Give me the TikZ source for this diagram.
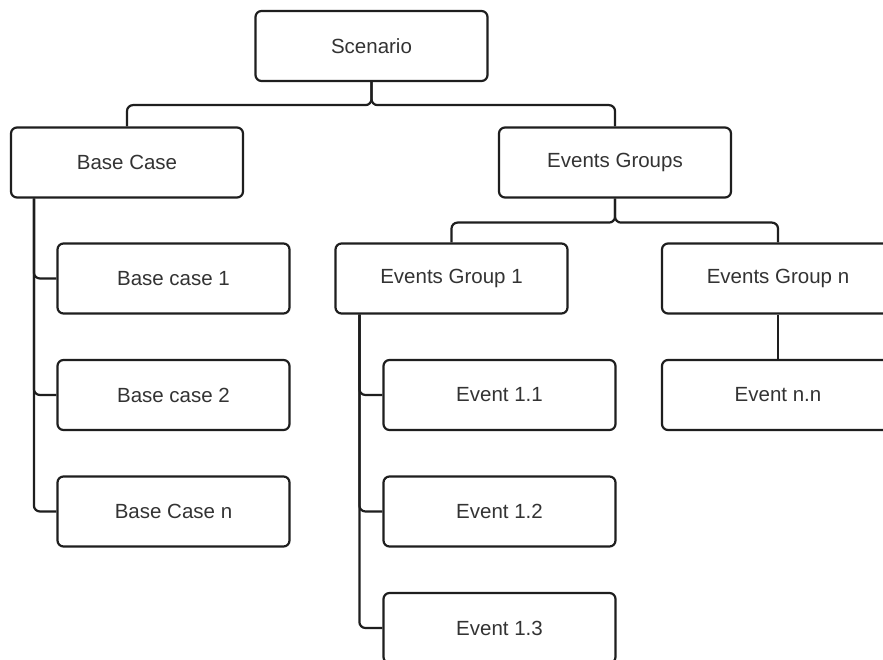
\documentclass[tikz,border=0pt]{standalone}
\usepackage{fontspec}
\setmainfont{Liberation Sans}
\usetikzlibrary{calc}
\definecolor{linecol}{HTML}{1E1E1E}
\definecolor{textcol}{HTML}{333333}
\begin{document}
\begin{tikzpicture}[x=1pt,y=-1pt,
  box/.style={draw=linecol, line width=2.2pt, rounded corners=6pt, fill=white,
    minimum width=232pt, minimum height=70pt, inner sep=0pt,
    text=textcol, font=\fontsize{20.5}{24}\selectfont},
  link/.style={draw=linecol, line width=2.2pt, rounded corners=6pt}]
  \useasboundingbox (0,0) rectangle (883,660);
  \clip (0,0) rectangle (883,660);
  \fill[white] (0,0) rectangle (883,660);

  % tree nodes
  \node[box] (scen) at (371.5,46) {Scenario};
  \node[box] (base) at (127,162.5) {Base Case};
  \node[box] (groups) at (615,162.5) {Events Groups};
  \node[box] (b1) at (173.5,278.5) {Base case 1};
  \node[box] (b2) at (173.5,395) {Base case 2};
  \node[box] (bn) at (173.5,511.5) {Base Case n};
  \node[box] (g1) at (451.5,278.5) {Events Group 1};
  \node[box] (gn) at (778,278.5) {Events Group n};
  \node[box] (e11) at (499.5,395) {Event 1.1};
  \node[box] (e12) at (499.5,511.5) {Event 1.2};
  \node[box] (e13) at (499.5,628) {Event 1.3};
  \node[box] (enn) at (778,395) {Event n.n};

  % junction points of the bus lines
  \coordinate (j1) at ($(scen.south)+(0,23)$);
  \coordinate (j2) at ($(groups.south)+(0,24)$);
  \coordinate (t1) at ($(base.south west)+(24,0)$);
  \coordinate (t2) at ($(g1.south west)+(25,0)$);

  % connectors
  \draw[link] (base.north) |- (j1) -- (scen.south);
  \draw[link] (groups.north) |- (j1) -- (scen.south);
  \draw[link] (g1.north) |- (j2) -- (groups.south);
  \draw[link] (gn.north) |- (j2) -- (groups.south);
  \foreach \c in {b1,b2,bn} \draw[link] (t1) |- (\c.west);
  \foreach \c in {e11,e12,e13} \draw[link] (t2) |- (\c.west);
  \draw[link] (gn.south) -- (enn.north);
\end{tikzpicture}
\end{document}
